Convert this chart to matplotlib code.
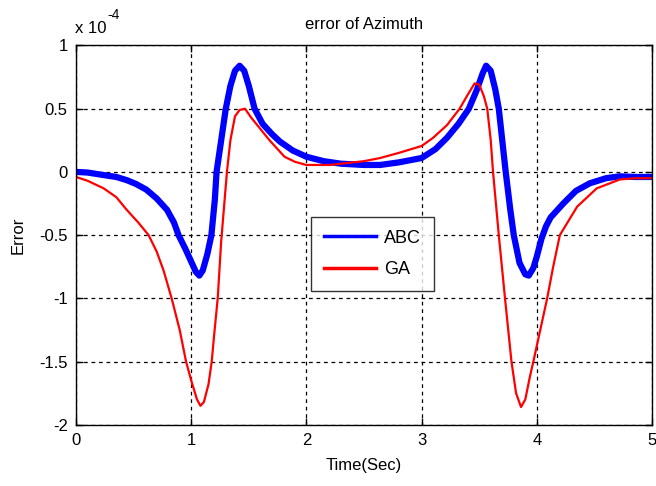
import matplotlib.pyplot as plt

plt.rcParams['font.family'] = ['Liberation Sans', 'DejaVu Sans']

# ABC error (x 1e-4)
abc_t = [0.0, 0.1, 0.24, 0.35, 0.44, 0.52, 0.61, 0.70, 0.79, 0.85, 0.89, 0.95,
         1.00, 1.04, 1.07, 1.10, 1.14, 1.175, 1.205, 1.22, 1.26, 1.30, 1.34, 1.38,
         1.42, 1.46, 1.50, 1.55, 1.62, 1.70, 1.77, 1.88, 2.00, 2.15, 2.30, 2.50,
         2.64, 2.80, 3.00, 3.12, 3.22, 3.32, 3.41, 3.48, 3.53, 3.56, 3.60, 3.64,
         3.67, 3.70, 3.73, 3.77, 3.80, 3.85, 3.90, 3.93, 3.97, 4.00, 4.04, 4.08,
         4.12, 4.23, 4.34, 4.46, 4.60, 4.72, 4.85, 5.00]
abc_e = [0.0, -0.005, -0.025, -0.04, -0.065, -0.095, -0.14, -0.21, -0.30, -0.40, -0.50, -0.61,
         -0.71, -0.79, -0.82, -0.78, -0.65, -0.50, -0.22, 0.0, 0.25, 0.50, 0.68, 0.80,
         0.84, 0.80, 0.68, 0.50, 0.38, 0.30, 0.24, 0.17, 0.12, 0.085, 0.065, 0.055,
         0.055, 0.075, 0.11, 0.18, 0.27, 0.38, 0.50, 0.65, 0.78, 0.84, 0.80, 0.65,
         0.50, 0.25, 0.0, -0.30, -0.50, -0.72, -0.81, -0.82, -0.76, -0.67, -0.53, -0.43,
         -0.36, -0.25, -0.15, -0.09, -0.05, -0.035, -0.04, -0.04]

# GA error (x 1e-4)
ga_t = [0.0, 0.10, 0.24, 0.35, 0.44, 0.54, 0.63, 0.70, 0.76, 0.83, 0.90, 0.955,
        1.00, 1.05, 1.08, 1.11, 1.15, 1.178, 1.20, 1.23, 1.26, 1.29, 1.31, 1.34,
        1.38, 1.42, 1.467, 1.52, 1.60, 1.68, 1.81, 1.90, 2.00, 2.20, 2.35, 2.50,
        2.64, 2.80, 3.00, 3.10, 3.22, 3.33, 3.40, 3.46, 3.50, 3.54, 3.57, 3.60,
        3.62, 3.67, 3.724, 3.78, 3.82, 3.863, 3.90, 3.94, 3.97, 4.03, 4.09, 4.14,
        4.20, 4.35, 4.52, 4.72, 4.85, 5.00]
ga_e = [-0.04, -0.07, -0.13, -0.20, -0.30, -0.40, -0.50, -0.63, -0.78, -1.00, -1.25, -1.50,
        -1.65, -1.80, -1.85, -1.82, -1.68, -1.50, -1.28, -1.00, -0.55, -0.22, 0.0, 0.25,
        0.44, 0.49, 0.50, 0.43, 0.34, 0.25, 0.12, 0.08, 0.055, 0.055, 0.07, 0.085,
        0.11, 0.15, 0.205, 0.27, 0.37, 0.50, 0.61, 0.70, 0.69, 0.60, 0.50, 0.25,
        0.0, -0.50, -1.00, -1.50, -1.75, -1.86, -1.80, -1.62, -1.50, -1.25, -1.00, -0.76,
        -0.50, -0.275, -0.13, -0.06, -0.05, -0.05]

xticks = [0, 1, 2, 3, 4, 5]
yticks = [-2, -1.5, -1, -0.5, 0, 0.5, 1]
ytick_labels = ['-2', '-1.5', '-1', '-0.5', '0', '0.5', '1']

fig = plt.figure(figsize=(6.56, 4.86), dpi=100)
ax = fig.add_axes([0.1159, 0.126, 0.878, 0.7804])

ax.plot(abc_t, abc_e, color='#0000ff', lw=4.5, label='ABC')
ax.plot(ga_t, ga_e, color='#ff0000', lw=1.6, label='GA')

ax.set_xlim(0, 5)
ax.set_ylim(-2, 1)
ax.set_xticks(xticks)
ax.set_yticks(yticks)
ax.set_yticklabels(ytick_labels)
ax.grid(True, color='black', linestyle=(0, (3, 3)), linewidth=0.9)
ax.tick_params(direction='in', length=5, width=1, labelsize=12,
               top=True, right=True, pad=6)
for s in ax.spines.values():
    s.set_linewidth(1)

ax.set_title('error of Azimuth', fontsize=12, pad=12)
ax.set_xlabel('Time(Sec)', fontsize=12, labelpad=7)
ax.set_ylabel('Error', fontsize=12, labelpad=10)

fig.text(0.114, 0.932, 'x 10', fontsize=12, ha='left', va='baseline')
fig.text(0.163, 0.961, '-4', fontsize=10, ha='left', va='baseline')

leg = ax.legend(loc='upper left', bbox_to_anchor=(0.408, 0.548), fontsize=13,
                frameon=True, fancybox=False, edgecolor='black', handlelength=2.9,
                borderpad=0.7, labelspacing=0.8, handletextpad=0.45,
                borderaxespad=0)
leg.get_frame().set_linewidth(1)
for h in leg.get_lines():
    h.set_linewidth(2.5)

fig.savefig('out.png', dpi=100)
